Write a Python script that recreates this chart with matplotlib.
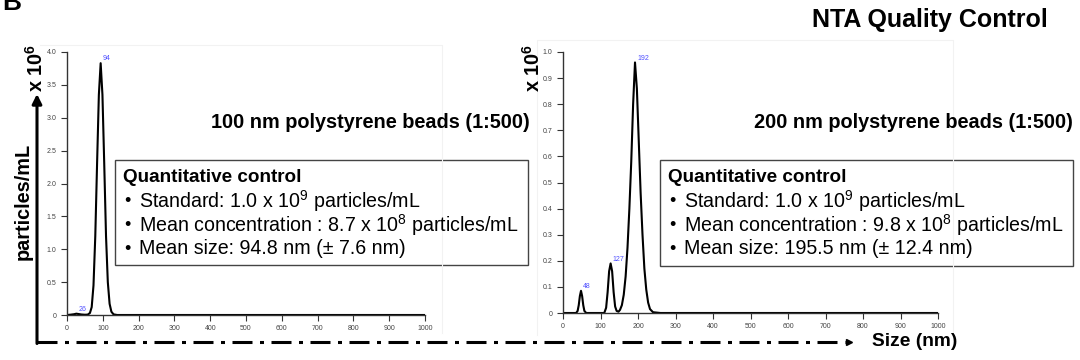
import matplotlib
matplotlib.use('Agg')
import matplotlib.pyplot as plt
from matplotlib.patches import Rectangle

plt.rcParams['font.family'] = ['Liberation Sans', 'DejaVu Sans']
plt.rcParams['mathtext.fontset'] = 'custom'
plt.rcParams['mathtext.rm'] = 'Liberation Sans'
plt.rcParams['mathtext.bf'] = 'Liberation Sans:bold'
plt.rcParams['lines.scale_dashes'] = False

# size distribution, 100 nm beads (particles/mL, x 10^6)
size_100 = [0, 10, 20, 26, 32, 40, 50, 58, 64, 69, 74, 79, 84, 89, 94, 99, 104, 109, 114, 119, 124, 130, 140, 1000]
conc_100 = [0, 0.005, 0.012, 0.02, 0.015, 0.008, 0.004, 0.006, 0.03, 0.12, 0.45, 1.2, 2.3, 3.35, 3.83,
            3.35, 2.3, 1.2, 0.5, 0.17, 0.05, 0.01, 0, 0]
peaks_100 = [26, 94]
peak_heights_100 = [0.02, 3.83]

# size distribution, 200 nm beads
size_200 = [0, 35, 39, 42, 45, 48, 51, 54, 57, 62, 110, 115, 119, 123, 127, 131, 135, 139, 143, 148,
            152, 157, 162, 167, 172, 177, 182, 187, 192, 197, 202, 207, 212, 217, 222, 227, 232, 240, 260, 1000]
conc_200 = [0, 0, 0.008, 0.03, 0.065, 0.085, 0.065, 0.03, 0.008, 0, 0, 0.02, 0.08, 0.16, 0.19, 0.16,
            0.08, 0.025, 0.008, 0.005, 0.012, 0.03, 0.07, 0.14, 0.25, 0.4, 0.58, 0.8, 0.96, 0.86, 0.66,
            0.46, 0.3, 0.17, 0.09, 0.04, 0.015, 0.003, 0, 0]
peaks_200 = [48, 127, 192]
peak_heights_200 = [0.085, 0.19, 0.96]

titles = ['100 nm polystyrene beads (1:500)', '200 nm polystyrene beads (1:500)']
box_lines = [
    ['Standard: 1.0 x 10$^{9}$ particles/mL',
     'Mean concentration : 8.7 x 10$^{8}$ particles/mL',
     'Mean size: 94.8 nm (\u00b1 7.6 nm)'],
    ['Standard: 1.0 x 10$^{9}$ particles/mL',
     'Mean concentration : 9.8 x 10$^{8}$ particles/mL',
     'Mean size: 195.5 nm (\u00b1 12.4 nm)'],
]

W, H = 1080, 360
fig = plt.figure(figsize=(W / 100, H / 100), dpi=100)

def px_axes(x0, y0, x1, y1):
    return fig.add_axes([x0 / W, 1 - y1 / H, (x1 - x0) / W, (y1 - y0) / H])

# overlay in pixel coordinates for the decorations
ov = px_axes(0, 0, W, H)
ov.set_xlim(0, W)
ov.set_ylim(H, 0)
ov.axis('off')

def panel(ax, x, y, peaks, heights, ymax, ystep):
    ax.plot(x, y, color='black', lw=1.5)
    ax.set_xlim(0, 1000)
    ax.set_ylim(0, ymax)
    ax.set_xticks(range(0, 1001, 100))
    nt = int(round(ymax / ystep))
    yt = [round(i * ystep, 2) for i in range(nt + 1)]
    ax.set_yticks(yt)
    ax.set_yticklabels(['0'] + ['%.1f' % v for v in yt[1:]])
    for s in ['top', 'right']:
        ax.spines[s].set_visible(False)
    for s in ['left', 'bottom']:
        ax.spines[s].set_color('#333333')
        ax.spines[s].set_linewidth(1.0)
    ax.tick_params(labelsize=5, colors='#333333', labelcolor='#444444', length=4, width=0.8, pad=3.5)
    ax.patch.set_alpha(0)
    for p, h in zip(peaks, heights):
        ax.annotate(str(p), (p, h), xytext=(1.5, 0.5), textcoords='offset points',
                    fontsize=5, color='#4f4fff', ha='left', va='bottom')

ax1 = px_axes(67, 52, 425, 315)
panel(ax1, size_100, conc_100, peaks_100, peak_heights_100, 4.0, 0.5)
ax2 = px_axes(563, 52, 938, 313)
panel(ax2, size_200, conc_200, peaks_200, peak_heights_200, 1.0, 0.1)
ax1.set_zorder(2)
ax2.set_zorder(2)

# faint panel frames
ov.plot([40, 442, 442], [45, 45, 333], color='#f2f2f2', lw=0.8)
ov.plot([537, 537, 953, 953], [335, 40, 40, 335], color='#f2f2f2', lw=0.8)

# figure letter and title
ov.text(2, 10, 'B', fontsize=19, fontweight='bold', va='baseline')
ov.text(930, 27, 'NTA Quality Control', fontsize=18, fontweight='bold', ha='center', va='baseline')

# axis labels
ov.text(23, 201, 'particles/mL', fontsize=14.3, fontweight='bold', rotation=90, ha='center', va='center')
ov.text(36, 68, r'x 10$^{\mathbf{6}}$', fontsize=14.3, fontweight='bold', rotation=90, ha='center', va='center')
ov.text(533, 68, r'x 10$^{\mathbf{6}}$', fontsize=14.3, fontweight='bold', rotation=90, ha='center', va='center')
ov.text(872, 342, 'Size (nm)', fontsize=13.8, fontweight='bold', ha='left', va='center')

# axis arrows
ov.annotate('', xy=(37, 94), xytext=(37, 343.5),
            arrowprops=dict(arrowstyle='-|>', lw=2.2, color='black', mutation_scale=14, shrinkA=0, shrinkB=0))
ov.plot([36, 57], [342, 342], color='black', lw=2.2, solid_capstyle='butt')
ov.plot([57, 845], [342, 342], color='black', lw=2.2,
        linestyle=(14.4, (14.4, 5.4, 2.88, 5.4)))
ov.plot([849], [342], marker='>', color='black', markersize=5)

# panel titles and info boxes
for tx, title, (bx0, by0, bx1, by1), lines in zip([530, 1073], titles,
                                                  [(115, 160, 528, 265), (660, 160, 1073, 266)], box_lines):
    ov.text(tx, 123, title, fontsize=14.3, fontweight='bold', ha='right', va='center')
    ov.add_patch(Rectangle((bx0, by0), bx1 - bx0, by1 - by0, facecolor='white', edgecolor='#444444', lw=1.0))
    ov.text(bx0 + 8, 177, 'Quantitative control', fontsize=13.6, fontweight='bold', ha='left', va='center')
    for i, line in enumerate(lines):
        yy = 201 + i * 24
        ov.text(bx0 + 9, yy, '\u2022', fontsize=13, ha='left', va='center')
        ov.text(bx0 + 24, yy, line, fontsize=14.1, ha='left', va='center')

ov.set_zorder(3)
fig.savefig('out.png', dpi=100)
